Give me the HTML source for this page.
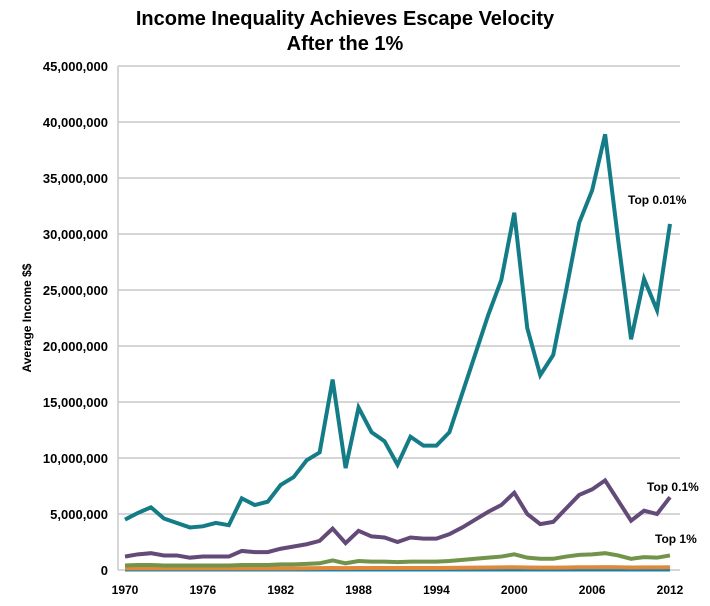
<!DOCTYPE html>
<html><head><meta charset="utf-8"><style>
body{margin:0;background:#fff;font-family:"Liberation Sans",sans-serif}
</style></head><body>
<svg id="chart" width="710" height="601" xmlns="http://www.w3.org/2000/svg">
<text x="345" y="25" text-anchor="middle" font-size="20" font-weight="bold">Income Inequality Achieves Escape Velocity</text>
<text x="345" y="50" text-anchor="middle" font-size="20" font-weight="bold">After the 1%</text>
<text transform="translate(31,318) rotate(-90)" text-anchor="middle" font-size="12" font-weight="bold">Average Income $$</text>
<g id="grid"></g><g id="series"></g><g id="labels"></g>
</svg>
<script>
const years=[];for(let y=1970;y<=2012;y++)years.push(y);
const top001=[4.5,5.1,5.6,4.6,4.2,3.8,3.9,4.2,4.0,6.4,5.8,6.1,7.6,8.3,9.8,10.5,17.0,9.1,14.5,12.3,11.5,9.4,11.9,11.1,11.1,12.3,15.8,19.3,22.8,25.9,31.9,21.6,17.4,19.2,25.0,31.0,33.9,38.9,29.5,20.6,26.0,23.2,30.9];
const top01=[1.2,1.4,1.5,1.3,1.3,1.1,1.2,1.2,1.2,1.7,1.6,1.6,1.9,2.1,2.3,2.6,3.7,2.4,3.5,3.0,2.9,2.5,2.9,2.8,2.8,3.2,3.8,4.5,5.2,5.8,6.9,5.0,4.1,4.3,5.5,6.7,7.2,8.0,6.2,4.4,5.3,5.0,6.5];
const top1=[0.4,0.45,0.45,0.4,0.4,0.4,0.4,0.4,0.4,0.45,0.45,0.45,0.5,0.5,0.55,0.6,0.85,0.6,0.8,0.75,0.75,0.7,0.75,0.75,0.75,0.8,0.9,1.0,1.1,1.2,1.4,1.1,1.0,1.0,1.2,1.35,1.4,1.5,1.3,1.0,1.15,1.1,1.3];
const top10=[0.15,0.15,0.15,0.15,0.15,0.15,0.15,0.15,0.15,0.15,0.15,0.15,0.15,0.15,0.16,0.17,0.18,0.17,0.18,0.18,0.18,0.18,0.18,0.18,0.18,0.19,0.2,0.21,0.22,0.23,0.25,0.22,0.21,0.21,0.22,0.24,0.25,0.26,0.24,0.22,0.23,0.23,0.25];
const bottom=[0.04,0.04,0.04,0.04,0.04,0.04,0.04,0.04,0.04,0.04,0.04,0.04,0.04,0.04,0.04,0.04,0.04,0.04,0.04,0.04,0.04,0.04,0.04,0.04,0.04,0.04,0.04,0.04,0.04,0.04,0.04,0.04,0.04,0.04,0.04,0.04,0.04,0.04,0.04,0.04,0.04,0.04,0.04];
const yTicks=[0,5,10,15,20,25,30,35,40,45];
const xTickYears=[1970,1976,1982,1988,1994,2000,2006,2012];
const NS="http://www.w3.org/2000/svg";
const X=y=>125+(y-1970)*(545/42);
const Y=v=>570-v*(504/45);
const svg=document.getElementById('chart');
function mk(t,p,a){const e=document.createElementNS(NS,t);for(const k in a)e.setAttribute(k,a[k]);p.appendChild(e);return e;}
const grid=document.getElementById('grid');
yTicks.forEach(v=>{
 const l=mk('line',grid,{x1:118,x2:680,y1:Y(v),y2:Y(v),stroke:'#c8c8c8','stroke-width':1.5});
 
 
 const t=mk('text',grid,{x:108,y:Y(v)+5,'text-anchor':'end','font-size':13,'font-weight':'bold'});
 t.textContent=(v*1000000).toLocaleString('en-US');
 
 
});
const ax=mk('line',grid,{x1:118,x2:118,y1:Y(45),y2:570,stroke:'#c8c8c8','stroke-width':1.5});


xTickYears.forEach(y=>{
 const t=mk('text',grid,{x:X(y),y:594,'text-anchor':'middle','font-size':12,'font-weight':'bold'});
 t.textContent=y;
 
 
});
const ser=document.getElementById('series');
[[bottom,'#1b7fa8','series-bottom'],[top10,'#e0893a','series-top-10'],[top1,'#72944a','series-top-1'],[top01,'#634a78','series-top-0-1'],[top001,'#137c87','series-top-0-01']].forEach(([d,c,n])=>{
 const p=mk('polyline',ser,{points:d.map((v,i)=>X(years[i])+','+Y(v)).join(' '),fill:'none',stroke:c,'stroke-width':4,'stroke-linejoin':'miter'});
 
 
});
const lab=document.getElementById('labels');
[['Top 0.01%',628,204],['Top 0.1%',647,491],['Top 1%',655,543]].forEach(([s,x,y])=>{
 const t=mk('text',lab,{x:x,y:y,'font-size':12,'font-weight':'bold'});
 t.textContent=s;
 
 
});
</script>
</body></html>
